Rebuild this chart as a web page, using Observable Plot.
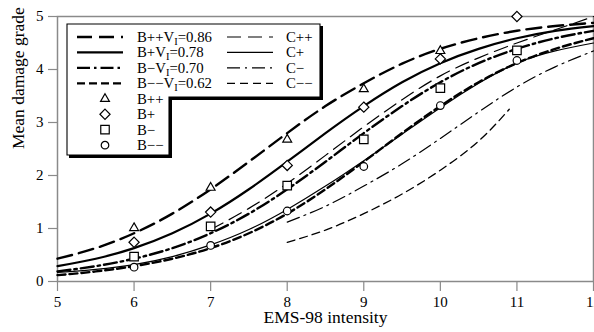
<!DOCTYPE html>
<html><head><meta charset="utf-8">
<script src="https://cdn.jsdelivr.net/npm/d3@7"></script>
<script src="https://cdn.jsdelivr.net/npm/@observablehq/plot@0.6"></script>
<style>
body{margin:0;background:#fff}
#chart{position:relative;width:594px;height:332px;overflow:hidden}
</style>
</head><body><div id="chart"></div>
<script>
// ---- data ----
const xTicks = [5,6,7,8,9,10,11,12];
const yTicks = [0,1,2,3,4,5];
const xLabel = "EMS-98 intensity";
const yLabel = "Mean damage grade";

// thick (B) curves, sampled every half intensity from 5 to 12
const bGrid = [5,5.5,6,6.5,7,7.5,8,8.5,9,9.5,10,10.5,11,11.5,12];
const bPP  = [0.43,0.63,0.91,1.28,1.74,2.26,2.80,3.31,3.74,4.11,4.39,4.59,4.73,4.82,4.88];
const bP   = [0.29,0.43,0.63,0.91,1.28,1.74,2.26,2.80,3.31,3.76,4.12,4.39,4.59,4.73,4.82];
const bM   = [0.19,0.29,0.43,0.63,0.91,1.28,1.74,2.26,2.80,3.31,3.76,4.12,4.39,4.59,4.73];
const bMM  = [0.12,0.19,0.29,0.43,0.63,0.91,1.28,1.74,2.26,2.80,3.31,3.76,4.12,4.39,4.59];

// thin (C) curves
const cPPx = [7,7.5,8,8.5,9,9.5,10,10.5,11,11.5,12];
const cPPy = [0.98,1.38,1.85,2.38,2.92,3.43,3.88,4.22,4.50,4.75,5.00];
const cPx  = [5,5.5,6,6.5,7,7.5,8,8.5,9,9.5,10,10.5,11,11.5,12];
const cPy  = [0.17,0.23,0.32,0.47,0.69,0.98,1.36,1.80,2.28,2.78,3.28,3.74,4.12,4.35,4.50];
const cMx  = [8,8.5,9,9.5,10,10.5,11,11.5,12];
const cMy  = [1.12,1.42,1.80,2.22,2.70,3.20,3.67,4.05,4.35];
const cMMx = [8,8.5,9,9.5,10,10.5,10.9];
const cMMy = [0.74,0.97,1.28,1.65,2.10,2.65,3.25];

// observed points
const ptPPx = [6,7,8,9,10];       const ptPPy = [1.01,1.77,2.68,3.63,4.35];
const ptPx  = [6,7,8,9,10,11];    const ptPy  = [0.74,1.31,2.19,3.29,4.20,5.00];
const ptMx  = [6,7,8,9,10,11];    const ptMy  = [0.47,1.04,1.81,2.68,3.65,4.36];
const ptMMx = [6,7,8,9,10,11];    const ptMMy = [0.27,0.68,1.33,2.17,3.32,4.17];

// ---- styles ----
const lineStyles = {
  "B++": {w:2.4, dash:"15,7"},
  "B+":  {w:2.2, dash:null},
  "B−":  {w:2.4, dash:"13,4,2.5,4"},
  "B−−": {w:2.4, dash:"8,4"},
  "C++": {w:1.2, dash:"14,7"},
  "C+":  {w:1.2, dash:null},
  "C−":  {w:1.2, dash:"13,5,2,5"},
  "C−−": {w:1.3, dash:"8,5"}
};
const zip = (xs, ys, s) => xs.map((x,i)=>({x, y:ys[i], s}));
const curves = [
  ["B++", zip(bGrid,bPP,"B++")],
  ["B+",  zip(bGrid,bP,"B+")],
  ["B−",  zip(bGrid,bM,"B−")],
  ["B−−", zip(bGrid,bMM,"B−−")],
  ["C++", zip(cPPx,cPPy,"C++")],
  ["C+",  zip(cPx,cPy,"C+")],
  ["C−",  zip(cMx,cMy,"C−")],
  ["C−−", zip(cMMx,cMMy,"C−−")]
];
const pts = [
  {data: zip(ptPPx,ptPPy,"B++"), symbol:"triangle", r:3.3},
  {data: zip(ptPx,ptPy,"B+"),    symbol:"diamond2", r:4.6},
  {data: zip(ptMx,ptMy,"B−"),    symbol:"square",   r:4.8},
  {data: zip(ptMMx,ptMMy,"B−−"), symbol:"circle",   r:3.8}
];

const serif = "'Liberation Serif', 'Times New Roman', serif";
const gray = "#8a8a8a";
const marks = [
  Plot.frame({stroke: gray, strokeWidth: 1.5}),
  ...curves.map(([k, d]) => Plot.line(d, {x:"x", y:"y", curve:"natural",
      stroke:"black", strokeWidth: lineStyles[k].w,
      strokeDasharray: lineStyles[k].dash || undefined})),
  ...pts.map(p => Plot.dot(p.data, {x:"x", y:"y", symbol: p.symbol, r: p.r,
      stroke:"black", strokeWidth:1.2, fill:"white"})),
  Plot.axisX({ticks: xTicks, tickSize: 10, tickPadding: 5, stroke: gray, strokeWidth: 1.2,
      fill:"black", label: null, fontSize: 15, tickFormat: d => String(d)}),
  Plot.axisY({ticks: yTicks, tickSize: 9, tickPadding: 5, stroke: gray, strokeWidth: 1.2,
      fill:"black", label: null, fontSize: 15, tickFormat: d => String(d)}),
  Plot.text([xLabel], {frameAnchor:"bottom", dy: 41, text: d => d, fontSize: 17.5, fill:"black"}),
  Plot.text([yLabel], {frameAnchor:"left", dx: -39, rotate: -90, text: d => d, fontSize: 17.5, fill:"black"})
];

const chart = Plot.plot({
  width: 594, height: 332,
  marginLeft: 57, marginRight: 1, marginTop: 16, marginBottom: 51,
  style: {fontFamily: serif, fontSize: "15px", background: "white", color: "black", overflow: "hidden"},
  x: {domain: [5, 12]},
  y: {domain: [0, 5]},
  marks
});
document.getElementById("chart").appendChild(chart);

// ---- legend (L-shaped box with drop shadow) ----
const svg = d3.select(chart);
const lg = svg.append("g").attr("font-family", serif).attr("font-size", 14.8).attr("text-anchor", "start").attr("fill", "black");
lg.append("path").attr("d", "M321.5,26 V98.5 H170.5 V156.5 H69").attr("fill","none").attr("stroke","black").attr("stroke-width",3);
lg.append("path").attr("d", "M67,24 H320 V97 H169 V155 H67 Z").attr("fill","white").attr("stroke","black").attr("stroke-width",1.1);
const rowY = i => 37 + i*15.45;
const lineEntries = [
  {k:"B++", lab:["B++V","I","=0.86"]},
  {k:"B+",  lab:["B+V","I","=0.78"]},
  {k:"B−",  lab:["B−V","I","=0.70"]},
  {k:"B−−", lab:["B−−V","I","=0.62"]}
];
const cEntries = ["C++","C+","C−","C−−"];
lineEntries.forEach((e,i) => {
  const y = rowY(i), st = lineStyles[e.k];
  lg.append("line").attr("x1",77).attr("x2",123).attr("y1",y).attr("y2",y)
    .attr("stroke","black").attr("stroke-width",st.w).attr("stroke-dasharray", st.dash);
  const t = lg.append("text").attr("x",137).attr("y",y+5);
  t.append("tspan").text(e.lab[0]);
  t.append("tspan").attr("font-size",10.5).attr("dy",3).text(e.lab[1]);
  t.append("tspan").attr("dy",-3).text(e.lab[2]);
  const c = cEntries[i], cs = lineStyles[c];
  lg.append("line").attr("x1",227).attr("x2",273).attr("y1",y).attr("y2",y)
    .attr("stroke","black").attr("stroke-width",cs.w).attr("stroke-dasharray", cs.dash);
  lg.append("text").attr("x",286).attr("y",y+5).text(c);
});
const symEntries = [
  {lab:"B++", sym:d3.symbolTriangle, size:34},
  {lab:"B+",  sym:d3.symbolDiamond2, size:66},
  {lab:"B−",  sym:d3.symbolSquare, size:72},
  {lab:"B−−", sym:d3.symbolCircle, size:45}
];
symEntries.forEach((e,i) => {
  const y = rowY(i+4);
  lg.append("path").attr("d", d3.symbol(e.sym, e.size)()).attr("transform",`translate(105,${y})`)
    .attr("fill","white").attr("stroke","black").attr("stroke-width",1.2);
  lg.append("text").attr("x",137).attr("y",y+5).text(e.lab);
});
</script>
</body></html>
